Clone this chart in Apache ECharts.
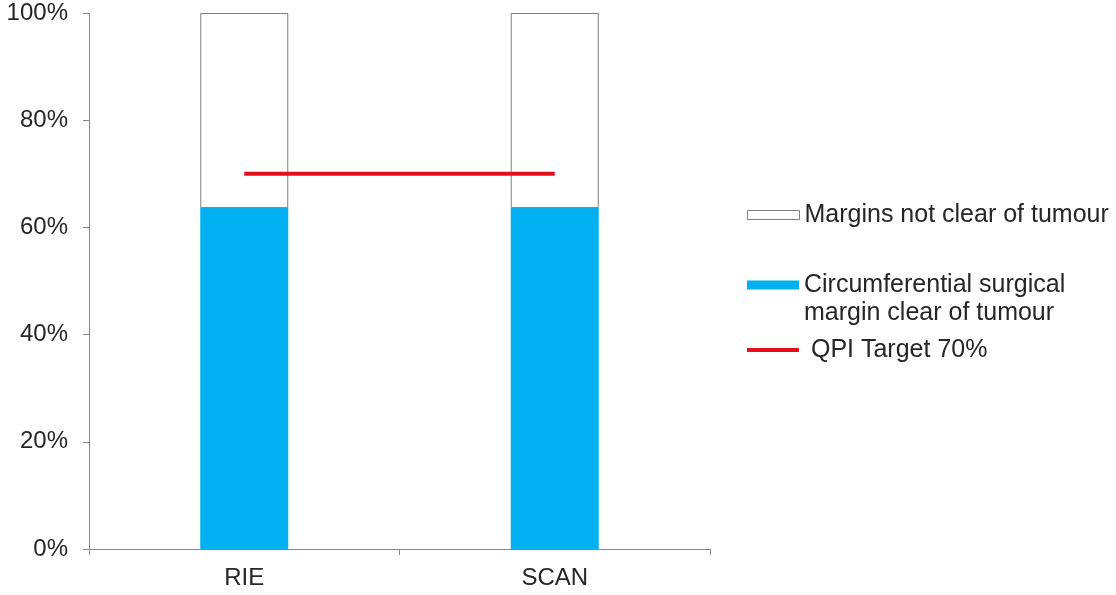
<!DOCTYPE html>
<html>
<head>
<meta charset="utf-8">
<script src="https://cdn.jsdelivr.net/npm/echarts@6/dist/echarts.min.js"></script>
<style>
html,body{margin:0;padding:0;background:#fff;}
#chart{width:1116px;height:595px;}
</style>
</head>
<body>
<div id="chart"></div>
<script>
var categories = ['RIE', 'SCAN'];
var clearValues = [63.6, 63.6];
var notClearValues = [36.4, 36.4];
var targetValues = [70, 70];
var yTicks = [0, 20, 40, 60, 80, 100];

var nameClear = 'Circumferential surgical\nmargin clear of tumour';
var nameNotClear = 'Margins not clear of tumour';
var nameTarget = 'QPI Target 70%';

var FONT = 'Liberation Sans, Arial, sans-serif';
var TXT = '#262626';
var AXIS = '#868686';

var chart = echarts.init(document.getElementById('chart'), null, {renderer: 'canvas'});
chart.setOption({
  animation: false,
  backgroundColor: '#ffffff',
  grid: {left: 89, right: 406, top: 13, bottom: 46},
  legend: [
    {
      left: 747, top: 201, orient: 'vertical', padding: 0,
      itemWidth: 52, itemHeight: 9,
      textStyle: {fontFamily: FONT, fontSize: 25, color: TXT, lineHeight: 28},
      data: [{name: nameNotClear, icon: 'rect', itemStyle: {color: '#ffffff', borderColor: '#7f7f7f', borderWidth: 1}}]
    },
    {
      left: 747, top: 243, orient: 'vertical', padding: 0,
      itemWidth: 52, itemHeight: 9,
      formatter: function (n) { return ' \n' + n; },
      textStyle: {fontFamily: FONT, fontSize: 25, color: TXT, lineHeight: 28},
      data: [{name: nameClear, icon: 'rect', itemStyle: {color: '#00B0F0', borderWidth: 0}}]
    },
    {
      left: 747, top: 336, orient: 'vertical', padding: 0,
      itemWidth: 52, itemHeight: 4,
      formatter: function (n) { return ' ' + n; },
      textStyle: {fontFamily: FONT, fontSize: 25, color: TXT, lineHeight: 28},
      data: [{name: nameTarget, icon: 'rect', itemStyle: {color: '#E3101B', borderWidth: 0}}]
    }
  ],
  xAxis: {
    type: 'category',
    data: categories,
    boundaryGap: true,
    axisLine: {show: true, lineStyle: {color: AXIS, width: 1}},
    axisTick: {show: true, length: 6, lineStyle: {color: AXIS}},
    axisLabel: {fontFamily: FONT, fontSize: 24, color: TXT, margin: 17}
  },
  yAxis: {
    type: 'value',
    min: 0, max: 100, interval: 20,
    axisLine: {show: true, lineStyle: {color: AXIS, width: 1}},
    axisTick: {show: true, length: 6, lineStyle: {color: AXIS}},
    splitLine: {show: false},
    axisLabel: {
      fontFamily: FONT, fontSize: 24, color: TXT, margin: 21,
      formatter: function (v) { return yTicks.indexOf(v) >= 0 ? v + '%' : ''; }
    }
  },
  series: [
    {
      name: nameClear, type: 'bar', stack: 'a', barWidth: 88,
      data: clearValues,
      itemStyle: {color: '#00B0F0'}
    },
    {
      name: nameNotClear, type: 'bar', stack: 'a', barWidth: 88,
      data: notClearValues,
      itemStyle: {color: '#ffffff', borderColor: '#7f7f7f', borderWidth: 1}
    },
    {
      name: nameTarget, type: 'line',
      data: targetValues,
      symbol: 'none',
      lineStyle: {color: '#E3101B', width: 4},
      itemStyle: {color: '#E3101B'},
      z: 5
    }
  ]
});
</script>
</body>
</html>
